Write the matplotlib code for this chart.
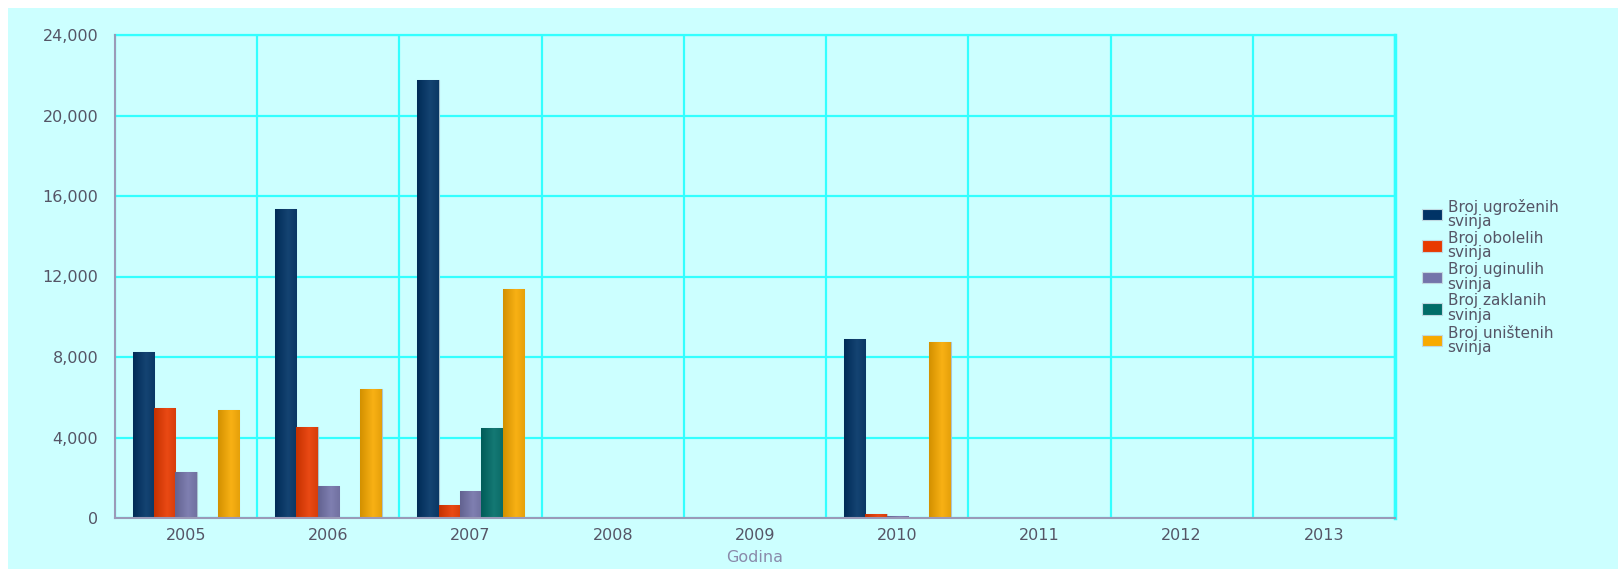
import numpy as np
import matplotlib
matplotlib.use("Agg")
import matplotlib.pyplot as plt
from matplotlib.patches import Rectangle
from matplotlib.colors import to_rgb
from matplotlib.ticker import FuncFormatter, MultipleLocator

plt.rcParams["font.family"] = ["DejaVu Sans"]

years = ["2005", "2006", "2007", "2008", "2009", "2010", "2011", "2012", "2013"]
series_names = ["Broj ugroženih\nsvinja", "Broj obolelih\nsvinja", "Broj uginulih\nsvinja",
                "Broj zaklanih\nsvinja", "Broj uništenih\nsvinja"]
ugrozenih = [8260, 15340, 21750, 0, 0, 8880, 0, 0, 0]
obolelih = [5480, 4500, 660, 0, 0, 180, 0, 0, 0]
uginulih = [2300, 1570, 1330, 0, 0, 110, 0, 0, 0]
zaklanih = [50, 0, 4460, 0, 0, 0, 0, 0, 0]
unistenih = [5350, 6390, 11400, 0, 0, 8760, 0, 0, 0]
series = [ugrozenih, obolelih, uginulih, zaklanih, unistenih]
colors = ["#003366", "#e83a00", "#7474aa", "#006d68", "#f8aa00"]

W, H = 1618, 569
fig = plt.figure(figsize=(W / 100, H / 100), dpi=100)
fig.patch.set_facecolor("white")
bg = "#ccffff"
fig.patches.append(Rectangle((8 / W, 0), 1 - 8 / W, 1 - 8 / H, transform=fig.transFigure,
                             facecolor=bg, edgecolor="none", zorder=-10))

ax = fig.add_axes([115 / W, 1 - 518 / H, (1395 - 115) / W, (518 - 35) / H])
ax.set_facecolor(bg)

x = np.arange(len(years))
bw = 0.15
for i, (vals, c) in enumerate(zip(series, colors)):
    bars = ax.bar(x + (i - 2) * bw, vals, width=bw, color=c, edgecolor="#a8c4d0",
                  linewidth=0.8, zorder=3, label=series_names[i])
    base = np.array(to_rgb(c))
    dark = base * 0.85
    light = np.clip(base + (1 - base) * 0.08, 0, 1)
    t = np.linspace(0, 1, 64)
    prof = np.interp(t, [0, 0.6, 1], [0, 1, 0.5])
    grad = dark[None, :] * (1 - prof[:, None]) + light[None, :] * prof[:, None]
    img = grad[None, :, :]
    for b, v in zip(bars, vals):
        if v <= 0:
            continue
        x0, w = b.get_x(), b.get_width()
        im = ax.imshow(img, extent=(x0, x0 + w, 0, v), aspect="auto", zorder=3.5,
                       interpolation="bilinear")
        im.set_clip_path(b)

ax.set_xlim(-0.5, len(years) - 0.5)
ax.set_ylim(0, 24000)
ax.yaxis.set_major_locator(MultipleLocator(4000))
ax.yaxis.set_major_formatter(FuncFormatter(lambda v, p: f"{int(v):,}"))
ax.set_xticks(x)
ax.set_xticklabels(years)
ax.set_xticks(np.arange(-0.5, len(years)), minor=True)
ax.grid(True, which="minor", axis="x", color="#33ffff", linewidth=1.6, zorder=1)
ax.grid(True, which="major", axis="y", color="#33ffff", linewidth=1.6, zorder=1)
ax.set_axisbelow(True)
ax.tick_params(axis="both", which="both", length=0)
ax.tick_params(axis="y", pad=12, labelsize=11.5, labelcolor="#555566")
ax.tick_params(axis="x", pad=7, labelsize=11.5, labelcolor="#555566")

for s in ["top", "right"]:
    ax.spines[s].set_color("#33ffff")
    ax.spines[s].set_linewidth(1.6)
ax.spines["right"].set_linewidth(2.5)
for s in ["left", "bottom"]:
    ax.spines[s].set_color("#9a9ab8")
    ax.spines[s].set_linewidth(1.5)
    ax.spines[s].set_zorder(4)

ax.set_xlabel("Godina", color="#8a8aaa", fontsize=11.5, labelpad=5)

leg = ax.legend(loc="upper left", bbox_to_anchor=(1414 / W, 1 - 191 / H),
                bbox_transform=fig.transFigure, frameon=False, fontsize=11,
                handlelength=1.3, handleheight=0.8, handletextpad=0.4,
                labelspacing=0.12, borderpad=0)
for t in leg.get_texts():
    t.set_color("#555566")
    t.set_linespacing(0.95)
for h in leg.legend_handles:
    h.set_edgecolor("#c0d8e0")

fig.savefig("out.png", dpi=100, facecolor=fig.get_facecolor())
